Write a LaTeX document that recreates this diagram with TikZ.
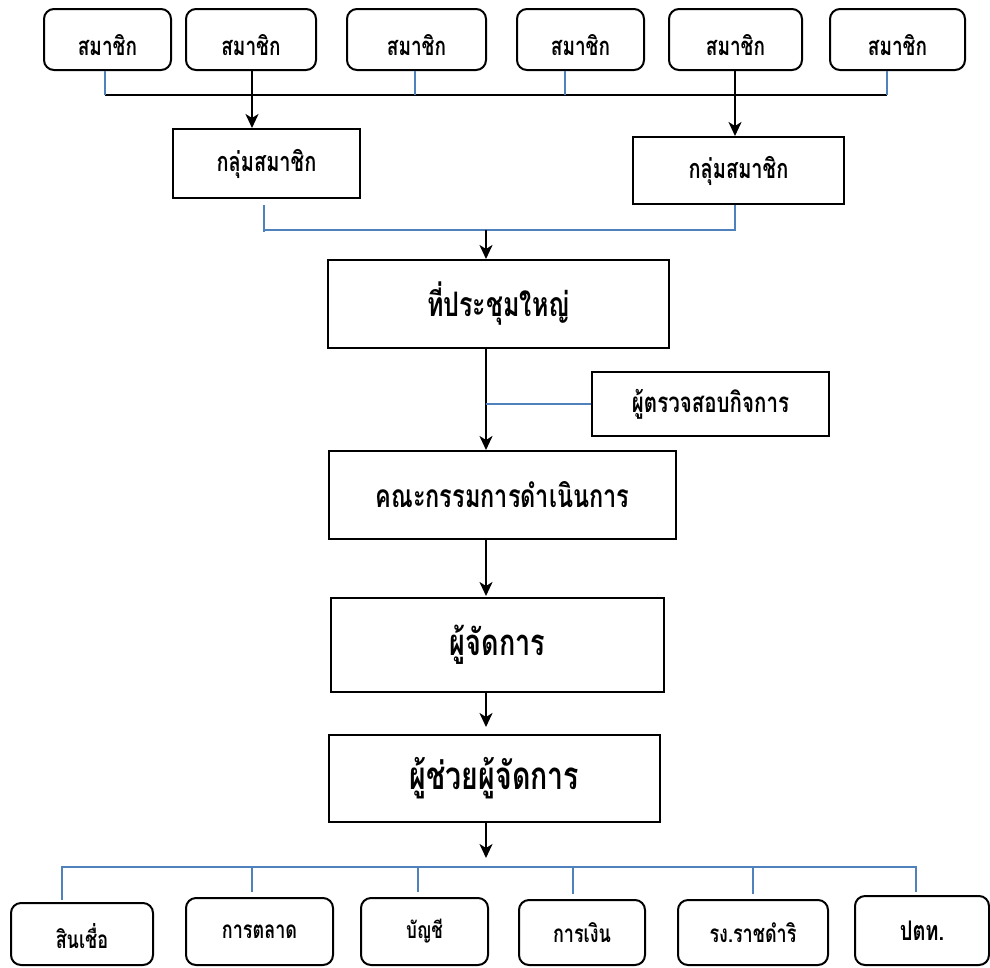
\documentclass[tikz,border=0pt]{standalone}
\usepackage{fontspec}
\usepackage{graphicx}
\newfontfamily\thaifont[Script=Thai]{Loma}
\usetikzlibrary{arrows.meta}
\definecolor{linkblue}{RGB}{79,129,189}
% narrow, tall lettering for the box labels
\newcommand{\tx}[1]{\scalebox{1}[1.35]{#1}}
% same, set a little lower in its box
\newcommand{\txlow}[2]{\raisebox{-#1}[\height][\depth]{\tx{#2}}}
\newcommand{\fs}[1]{\thaifont\bfseries\fontsize{#1}{#1}\selectfont}
\tikzset{
  box/.style={draw=black, line width=2pt, fill=white, align=center, inner sep=0pt,
    font=\fs{19}},
  rbox/.style={box, rounded corners=10pt},
  bigbox/.style={box, font=\fs{25}},
  lowbox/.style={rbox, font=\fs{18}},
  blueline/.style={draw=linkblue, line width=1.8pt},
  blackline/.style={draw=black, line width=2pt},
  arr/.style={blackline, -{Stealth[length=14pt, width=13pt, inset=4pt]}},
}
\newcommand{\boxat}[6]{% style, name, x1, y1, x2, y2 ... text follows
  \node[#1, minimum width={#5-#3}, minimum height={#6-#4}] (#2) at ({(#3+#5)/2},{(#4+#6)/2})}
\begin{document}
\begin{tikzpicture}[x=1pt, y=-1pt]
\useasboundingbox (0,0) rectangle (990,967);

% members
\boxat{rbox}{m1}{44}{9}{171}{70} {\txlow{6pt}{สมาชิก}};
\boxat{rbox}{m2}{186}{9}{316}{70} {\txlow{6pt}{สมาชิก}};
\boxat{rbox}{m3}{347}{9}{486}{70} {\txlow{6pt}{สมาชิก}};
\boxat{rbox}{m4}{517}{9}{644}{70} {\txlow{6pt}{สมาชิก}};
\boxat{rbox}{m5}{669}{9}{802}{70} {\txlow{6pt}{สมาชิก}};
\boxat{rbox}{m6}{830}{9}{965}{70} {\txlow{6pt}{สมาชิก}};

% member groups
\boxat{box, font=\fs{20}}{g1}{173}{129}{360}{198} {\tx{กลุ่มสมาชิก}};
\boxat{box, font=\fs{20}}{g2}{633}{137}{844}{204} {\tx{กลุ่มสมาชิก}};

% main column
\boxat{bigbox}{meet}{328}{260}{669}{348} {\tx{ที่ประชุมใหญ่}};
\boxat{box, font=\fs{20.5}}{aud}{592}{372}{829}{436} {\tx{ผู้ตรวจสอบกิจการ}};
\boxat{bigbox, font=\fs{23.5}}{comm}{329}{451}{676}{539} {\tx{คณะกรรมการดำเนินการ}};
\boxat{bigbox, font=\fs{27}}{mgr}{331}{598}{664}{692} {\tx{ผู้จัดการ}};
\boxat{bigbox, font=\fs{28.5}}{asst}{329}{735}{660}{822} {\tx{ผู้ช่วยผู้จัดการ}};

% departments
\boxat{lowbox}{b1}{11}{903}{153}{965} {\txlow{2pt}{สินเชื่อ}};
\boxat{lowbox}{b2}{186}{898}{333}{965} {\tx{การตลาด}};
\boxat{lowbox, font=\fs{17}}{b3}{361}{898}{488}{965} {\tx{บัญชี}};
\boxat{lowbox}{b4}{519}{900}{645}{965} {\tx{การเงิน}};
\boxat{lowbox}{b5}{678}{900}{828}{965} {\tx{รง.ราชดำริ}};
\boxat{lowbox, font=\fs{20}}{b6}{855}{896}{989}{965} {\tx{ปตท.}};

% junction points
\coordinate (topbusL) at (105,95);
\coordinate (topbusR) at (887,95);
\coordinate (grpbus) at (486,230);
\coordinate (lowbusL) at (62,867);
\coordinate (lowbusR) at (916,867);
\coordinate (col) at (486,0);

% members into groups
\draw[blackline] (topbusL) -- (topbusR);
\draw[blueline] ([xshift=-2.5pt]m1.south) -- ([xshift=-2.5pt]m1.south |- topbusL);
\draw[blueline] ([xshift=-1.5pt]m3.south) -- ([xshift=-1.5pt]m3.south |- topbusL);
\draw[blueline] ([xshift=-15.5pt]m4.south) -- ([xshift=-15.5pt]m4.south |- topbusL);
\draw[blueline] ([xshift=-10.5pt]m6.south) -- ([xshift=-10.5pt]m6.south |- topbusL);
\draw[arr] ([xshift=1pt]m2.south) -- ([xshift=1pt]m2.south |- g1.north);
\draw[arr] ([xshift=-0.5pt]m5.south) -- ([xshift=-0.5pt]m5.south |- g2.north);

% groups into the general meeting
\draw[blueline] ([xshift=-2.5pt,yshift=-6pt]g1.south) -- ++(0,27) ++(0,-2) -| ([xshift=-3.5pt]g2.south);
\draw[arr] (grpbus) -- (grpbus |- meet.north);

% general meeting, auditor, committee
\draw[arr] (meet.south -| col) -- (comm.north -| col);
\draw[blueline] (aud.west) -- (aud.west -| col);
\draw[arr] (comm.south -| col) -- ([yshift=1pt]mgr.north -| col);
\draw[arr] (mgr.south -| col) -- ([yshift=7pt]asst.north -| col);
\draw[arr] (asst.south -| col) -- ([yshift=9pt]lowbusL -| col);

% departments
\draw[blueline] ([yshift=-3pt]lowbusL) -- (lowbusL) -- (lowbusR) -- ([yshift=3pt]b6.north -| lowbusR);
\draw[blueline] (lowbusL) -- ([xshift=-20pt,yshift=2pt]b1.north);
\draw[blueline] ([xshift=-7.5pt]b2.north |- lowbusL) -- ([xshift=-7.5pt,yshift=5pt]b2.north);
\draw[blueline] ([xshift=-6.5pt]b3.north |- lowbusL) -- ([xshift=-6.5pt,yshift=5pt]b3.north);
\draw[blueline] ([xshift=-9pt]b4.north |- lowbusL) -- ([xshift=-9pt,yshift=5pt]b4.north);
\draw[blueline] (b5.north |- lowbusL) -- ([yshift=5pt]b5.north);
\end{tikzpicture}
\end{document}
